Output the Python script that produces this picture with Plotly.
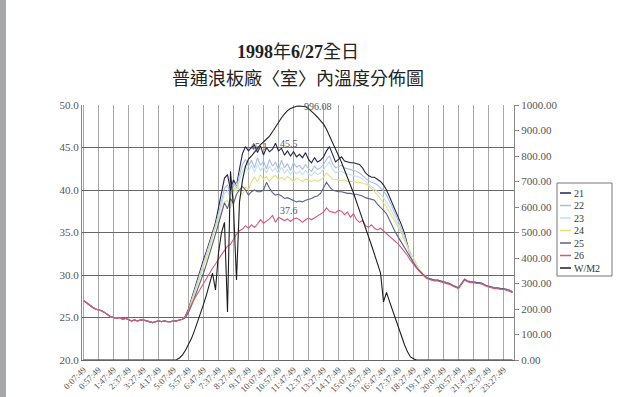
import plotly.graph_objects as go

# ---------------- data ----------------
# categories: every 10 minutes starting at 0:07:49
times = []
for k in range(144):
    m = 7 + 10 * k
    times.append(f"{m // 60}:{m % 60:02d}:49")

tick_labels = ["0:07:49", "0:57:49", "1:47:49", "2:37:49", "3:27:49", "4:17:49",
               "5:07:49", "5:57:49", "6:47:49", "7:37:49", "8:27:49", "9:17:49",
               "10:07:49", "10:57:49", "11:47:49", "12:37:49", "13:27:49", "14:17:49",
               "15:07:49", "15:57:49", "16:47:49", "17:37:49", "18:27:49", "19:17:49",
               "20:07:49", "20:57:49", "21:47:49", "22:37:49", "23:27:49"]

# night (all sensors read the same) 0:07:49 - 5:37:49
night_am = [27.0, 26.7, 26.4, 26.2, 26.0, 25.9, 25.8, 25.6, 25.3, 25.1,
            25.0, 24.9, 25.0, 24.8, 24.9, 24.7, 24.6, 24.7, 24.6, 24.7,
            24.7, 24.6, 24.5, 24.4, 24.5, 24.6, 24.5, 24.6, 24.5, 24.5,
            24.6, 24.6, 24.7, 24.8]
# evening 18:57:49 - 23:57:49
night_pm = [30.1, 29.8, 29.6, 29.5, 29.4, 29.4, 29.3, 29.2, 29.1, 29.0,
            28.8, 28.6, 28.5, 29.0, 29.5, 29.3, 29.2, 29.2, 29.1, 29.1,
            29.0, 28.8, 28.7, 28.6, 28.5, 28.5, 28.4, 28.4, 28.3, 28.2,
            28.0]
night_pm_26 = [30.0, 29.7, 29.5, 29.4, 29.3, 29.3, 29.2, 29.1, 29.0, 28.9,
               28.7, 28.5, 28.4, 28.9, 29.4, 29.2, 29.1, 29.1, 29.0, 29.0,
               28.9, 28.7, 28.6, 28.5, 28.4, 28.4, 28.3, 28.3, 28.2, 28.1,
               27.9]

day_21 = [25.2, 26.0, 27.2, 28.4, 29.6, 30.8, 31.8, 32.8, 33.8, 35.0,
          36.2, 37.8, 39.8, 41.4, 41.8, 40.0, 41.2, 40.5, 42.5, 44.3,
          45.1, 44.6, 45.0, 45.3, 44.4, 45.2, 44.1, 45.0, 44.5, 44.8,
          45.5, 44.6, 44.9, 44.1, 44.6, 44.0, 44.5, 43.9, 44.2, 43.8,
          44.4, 43.6, 43.2, 43.8, 43.3, 43.5, 43.9, 44.6, 45.1, 44.2,
          43.3, 43.6, 43.9, 43.4, 43.3, 43.2, 43.2, 43.1, 43.0, 42.6,
          42.0, 41.7, 41.5, 41.5, 41.3, 41.0, 40.6, 40.0, 39.2, 38.4,
          37.6, 36.8, 35.9, 34.9, 33.5, 32.2, 31.4, 30.9, 30.5]
day_22 = [25.1, 25.9, 27.0, 28.1, 29.2, 30.3, 31.3, 32.4, 33.5, 34.7,
          35.9, 37.2, 38.8, 40.2, 40.6, 39.5, 40.8, 40.2, 41.8, 43.0,
          43.6, 42.8, 43.5, 42.6, 43.8, 42.9, 43.4, 42.5, 43.6, 42.8,
          43.3, 42.4, 43.5, 42.6, 43.1, 42.3, 43.2, 42.7, 42.9, 42.4,
          43.0, 42.5, 42.2, 42.8, 42.4, 42.6, 43.0, 43.6, 44.0, 43.1,
          42.6, 42.8, 42.9, 42.6, 42.5, 42.4, 42.3, 42.2, 42.0, 41.7,
          41.3, 41.1, 40.9, 40.8, 40.6, 40.3, 39.9, 39.4, 38.7, 37.9,
          37.1, 36.3, 35.5, 34.6, 33.4, 32.2, 31.4, 30.9, 30.5]
day_23 = [25.1, 25.8, 26.9, 28.0, 29.0, 30.1, 31.1, 32.2, 33.3, 34.5,
          35.7, 36.9, 38.3, 39.6, 39.9, 39.0, 40.3, 39.8, 41.2, 42.2,
          42.8, 42.2, 42.9, 42.1, 43.0, 42.3, 42.7, 42.0, 42.8, 42.2,
          42.6, 41.9, 42.7, 42.0, 42.4, 41.8, 42.3, 41.9, 42.2, 41.8,
          42.3, 41.9, 41.7, 42.1, 41.8, 42.0, 42.4, 42.9, 43.3, 42.5,
          42.0, 42.2, 42.2, 42.0, 41.9, 41.8, 41.7, 41.6, 41.5, 41.3,
          41.0, 40.8, 40.5, 40.2, 39.9, 39.5, 39.1, 38.6, 38.0, 37.3,
          36.6, 35.9, 35.1, 34.3, 33.3, 32.3, 31.6, 31.0, 30.6]
day_24 = [25.1, 25.8, 26.8, 27.8, 28.8, 29.8, 30.8, 32.0, 33.2, 34.5,
          35.6, 36.5, 37.6, 38.6, 38.8, 37.9, 39.6, 40.8, 40.0, 39.4,
          40.4, 40.0, 41.0, 41.5, 41.0, 41.8, 41.3, 41.6, 41.0, 41.5,
          41.7, 41.2, 41.5, 41.2, 41.6, 41.3, 41.0, 41.4, 41.2, 41.0,
          41.3, 41.1, 41.0, 41.2, 41.0, 41.2, 41.5, 42.0, 41.6, 41.3,
          41.2, 41.2, 41.1, 41.2, 41.0, 41.0, 41.0, 40.9, 40.9, 40.8,
          40.7, 40.5, 40.2, 39.8, 39.4, 39.0, 38.5, 38.0, 37.4, 36.8,
          36.2, 35.6, 34.9, 34.1, 33.4, 32.7, 31.9, 31.2, 30.6]
day_25 = [25.0, 25.6, 26.4, 27.3, 28.2, 29.2, 30.2, 31.3, 32.4, 33.6,
          34.8, 36.0, 37.4, 38.5, 37.8, 39.0, 38.4, 39.5, 40.0, 40.4,
          40.0, 39.4, 39.8, 40.0, 39.8, 39.8, 40.0, 40.9, 40.2, 39.7,
          39.4, 39.5, 39.3, 39.0, 39.1, 38.9, 38.7, 38.6, 38.7, 38.6,
          38.8, 38.9, 39.0, 39.2, 39.3, 39.6, 40.2, 40.9, 40.4, 40.0,
          39.9, 39.8, 39.8, 39.7, 39.6, 39.6, 39.5, 39.5, 39.4, 39.3,
          39.1, 39.0, 38.9, 38.8, 38.3, 38.0, 37.6, 37.2, 36.4, 35.6,
          35.0, 34.4, 33.8, 33.2, 32.6, 32.0, 31.4, 30.9, 30.5]
day_26 = [25.2, 25.9, 26.5, 27.2, 27.8, 28.4, 29.1, 29.7, 30.2, 30.8,
          31.3, 31.9, 32.4, 32.9, 33.4, 33.6, 34.2, 34.8, 35.2, 35.4,
          35.8, 35.5, 35.9, 35.6, 36.0, 36.5, 36.1, 36.3, 36.6, 37.0,
          36.2, 36.8, 36.6, 36.4, 36.6, 36.3, 36.6, 36.7, 36.5, 36.2,
          36.5, 36.7, 36.5, 36.7, 36.9, 37.1, 37.4, 37.9, 37.5, 37.4,
          37.3, 37.6, 37.5, 37.1, 37.4, 36.8, 37.2, 36.5, 36.2, 36.4,
          35.8, 35.6, 35.9, 35.5, 35.3, 35.5, 35.2, 34.9, 34.6, 34.3,
          34.0, 33.6, 33.2, 32.8, 32.3, 31.7, 31.2, 30.8, 30.4]

s21 = night_am + day_21 + night_pm
s22 = night_am + day_22 + night_pm
s23 = night_am + day_23 + night_pm
s24 = night_am + day_24 + night_pm
s25 = night_am + day_25 + night_pm
s26 = night_am + day_26 + night_pm_26

w_m2 = [0, 0, 0, 0, 0, 0, 0, 0, 0, 0,
        0, 0, 0, 0, 0, 0, 0, 0, 0, 0,
        0, 0, 0, 0, 0, 0, 0, 0, 0, 0,
        0, 1, 8, 20, 38, 60, 85, 115, 148, 182,
        218, 256, 298, 341, 275, 420, 500, 540, 188, 740,
        600, 314, 620, 705, 760, 788, 800, 815, 830, 845,
        855, 865, 878, 895, 915, 935, 950, 965, 978, 986,
        992, 995, 996.08, 995, 993, 986, 976, 964, 952, 940,
        925, 905, 880, 855, 830, 805, 775, 745, 715, 688,
        655, 620, 588, 553, 518, 484, 450, 415, 380, 342,
        228, 265, 230, 195, 160, 125, 92, 60, 32, 12,
        5, 0, 0, 0, 0, 0, 0, 0, 0, 0,
        0, 0, 0, 0, 0, 0, 0, 0, 0, 0,
        0, 0, 0, 0, 0, 0, 0, 0, 0, 0,
        0, 0, 0, 0]

series_names = ["21", "22", "23", "24", "25", "26", "W/M2"]
series_colors = ["#23234f", "#a8bde6", "#c3e0ea", "#e2e07a", "#5b5f92", "#d4587a", "#1e1e1e"]

# data labels: (series, category, value text)
label_points = [("W/M2", "12:07:49", "996.08"), ("21", "9:07:49", "45.1"),
                ("21", "10:47:49", "45.5"), ("26", "10:47:49", "37.6")]

# ---------------- figure ----------------
fig = go.Figure()
temps = [s21, s22, s23, s24, s25, s26]
for name, vals, col in zip(series_names[:6], temps, series_colors[:6]):
    fig.add_trace(go.Scatter(x=times, y=vals, mode="lines", name=name,
                             line=dict(color=col, width=1.1), showlegend=False))
fig.add_trace(go.Scatter(x=times, y=w_m2, mode="lines", name="W/M2", yaxis="y2",
                         line=dict(color=series_colors[6], width=1.1), showlegend=False))

serif = "Liberation Serif, Times New Roman, serif"
tick_font = dict(family=serif, size=11, color="#555")

fig.update_layout(
    width=640, height=397,
    margin=dict(l=82, r=126, t=105, b=37),
    paper_bgcolor="white", plot_bgcolor="white",
    xaxis=dict(type="category", tickmode="array", tickvals=tick_labels, ticktext=tick_labels,
               tickangle=-45, tickfont=dict(family=serif, size=9, color="#555"),
               showgrid=True, gridcolor="#a8a8a8", gridwidth=1, automargin=False,
               showline=True, linecolor="#666", linewidth=1, mirror=False,
               ticks="", range=[-0.5, 143.5]),
    yaxis=dict(range=[20, 50], dtick=5, tickformat=".1f", tickfont=tick_font,
               showgrid=True, gridcolor="#666", gridwidth=1, automargin=False,
               showline=True, linecolor="#888", linewidth=1, ticks="", zeroline=False),
    yaxis2=dict(range=[0, 1000], dtick=100, tickformat=".2f", tickfont=tick_font,
                overlaying="y", side="right", showgrid=False, showline=True,
                automargin=False, linecolor="#888", linewidth=1, ticks="outside",
                ticklen=4, tickcolor="#888", zeroline=False),
)

# title
fig.add_annotation(xref="paper", yref="paper", x=0.5, y=1 + (105 - 52) / 255,
                   xanchor="center", yanchor="middle",
                   text="<b>1998</b>年<b>6/27</b>全日", showarrow=False,
                   font=dict(family="Liberation Serif, Noto Sans CJK TC", size=18, color="#222"))
fig.add_annotation(xref="paper", yref="paper", x=0.5, y=1 + (105 - 77) / 255,
                   xanchor="center", yanchor="middle",
                   text="普通浪板廠〈室〉內溫度分佈圖", showarrow=False,
                   font=dict(family="Noto Sans CJK TC", size=18, color="#222"))

# data labels
for sname, cat, txt in label_points:
    yval = float(txt)
    fig.add_annotation(x=cat, y=yval, xref="x", yref="y2" if sname == "W/M2" else "y",
                       text=txt, showarrow=False, xanchor="left", yanchor="middle", xshift=2,
                       font=dict(family=serif, size=10, color="#555"))

# manual legend (paper coords: px -> (px-82)/432, py -> 1-(py-105)/255)
def px(x):
    return (x - 82) / 432

def py(y):
    return 1 - (y - 105) / 255

fig.add_shape(type="rect", xref="paper", yref="paper", x0=px(557), x1=px(612),
              y0=py(276), y1=py(183), line=dict(color="#777", width=1), fillcolor="white")
for k, (name, col) in enumerate(zip(series_names, series_colors)):
    yy = 193 + k * 12.5
    fig.add_shape(type="line", xref="paper", yref="paper", x0=px(560), x1=px(571),
                  y0=py(yy), y1=py(yy), line=dict(color=col, width=1.5))
    fig.add_annotation(xref="paper", yref="paper", x=px(572), y=py(yy), text=name,
                       showarrow=False, xanchor="left", yanchor="middle",
                       font=dict(family=serif, size=10, color="#333"))

# scanner edge strip on the left
fig.add_shape(type="rect", xref="paper", yref="paper", x0=px(0), x1=px(6),
              y0=py(397), y1=py(0), line=dict(width=0), fillcolor="#a4a8aa", layer="below")

fig.write_html("out.html", config={"displayModeBar": False},
               post_script="document.body.style.margin='0px';")
